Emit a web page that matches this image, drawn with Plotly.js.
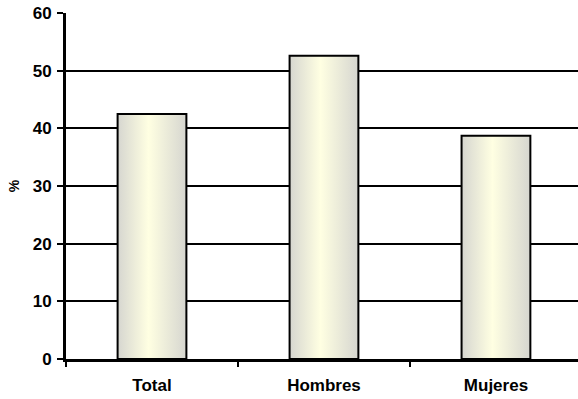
<!DOCTYPE html>
<html>
<head>
<meta charset="utf-8">
<script src="https://cdn.plot.ly/plotly-3.0.1.min.js"></script>
<style>
  html, body { margin: 0; padding: 0; background: #fff; }
  #chart { width: 578px; height: 399px; }
</style>
</head>
<body>
<div id="chart"></div>
<script>
// Share (%) by group
const categories = ['Total', 'Hombres', 'Mujeres'];
const values = [42.5, 52.6, 38.7];
const yTicks = [0, 10, 20, 30, 40, 50, 60];

const font = { family: 'Liberation Sans, Arial, sans-serif', color: '#000' };

const trace = {
  type: 'bar',
  x: categories,
  y: values,
  width: 0.4,
  marker: { color: '#f4f4e4', line: { color: '#000', width: 2 } },
  hoverinfo: 'skip'
};

const layout = {
  width: 578,
  height: 399,
  margin: { l: 66, r: 0, t: 13, b: 40 },
  paper_bgcolor: '#fff',
  plot_bgcolor: '#fff',
  showlegend: false,
  font: font,
  xaxis: {
    type: 'category',
    range: [-0.5, 2.477],
    tickson: 'boundaries',
    ticks: 'outside',
    ticklen: 5,
    tickwidth: 2,
    tickcolor: '#000',
    showline: true,
    linecolor: '#000',
    linewidth: 3,
    showgrid: false,
    tickfont: { family: font.family, size: 17, color: '#000', weight: 'bold' },
    ticklabelstandoff: 9
  },
  yaxis: {
    range: [0, 60],
    tickmode: 'array',
    tickvals: yTicks,
    ticktext: yTicks.map(String),
    ticks: 'outside',
    ticklen: 6,
    tickwidth: 2,
    tickcolor: '#000',
    showline: true,
    linecolor: '#000',
    linewidth: 3,
    showgrid: true,
    gridcolor: '#000',
    gridwidth: 2,
    zeroline: false,
    tickfont: { family: font.family, size: 17, color: '#000', weight: 'bold' },
    ticklabelstandoff: 2,
    title: { text: '%', font: { family: font.family, size: 14, color: '#000', weight: 'bold' }, standoff: 10 }
  }
};

Plotly.newPlot('chart', [trace], layout, { staticPlot: true, displayModeBar: false }).then(function (gd) {
  // Horizontal shading across each bar: grey edges, pale yellow centre
  const svg = gd.querySelector('svg.main-svg');
  const ns = 'http://www.w3.org/2000/svg';
  let defs = svg.querySelector('defs');
  if (!defs) { defs = document.createElementNS(ns, 'defs'); svg.insertBefore(defs, svg.firstChild); }
  const grad = document.createElementNS(ns, 'linearGradient');
  grad.setAttribute('id', 'barShade');
  grad.setAttribute('x1', '0'); grad.setAttribute('y1', '0');
  grad.setAttribute('x2', '1'); grad.setAttribute('y2', '0');
  [['0', '#d6d6d0'], ['0.45', '#ffffe2'], ['1', '#d6d6d0']].forEach(function (s) {
    const stop = document.createElementNS(ns, 'stop');
    stop.setAttribute('offset', s[0]);
    stop.setAttribute('stop-color', s[1]);
    grad.appendChild(stop);
  });
  defs.appendChild(grad);
  gd.querySelectorAll('.bars .point path').forEach(function (p) {
    p.style.fill = 'url(#barShade)';
  });
});
</script>
</body>
</html>
